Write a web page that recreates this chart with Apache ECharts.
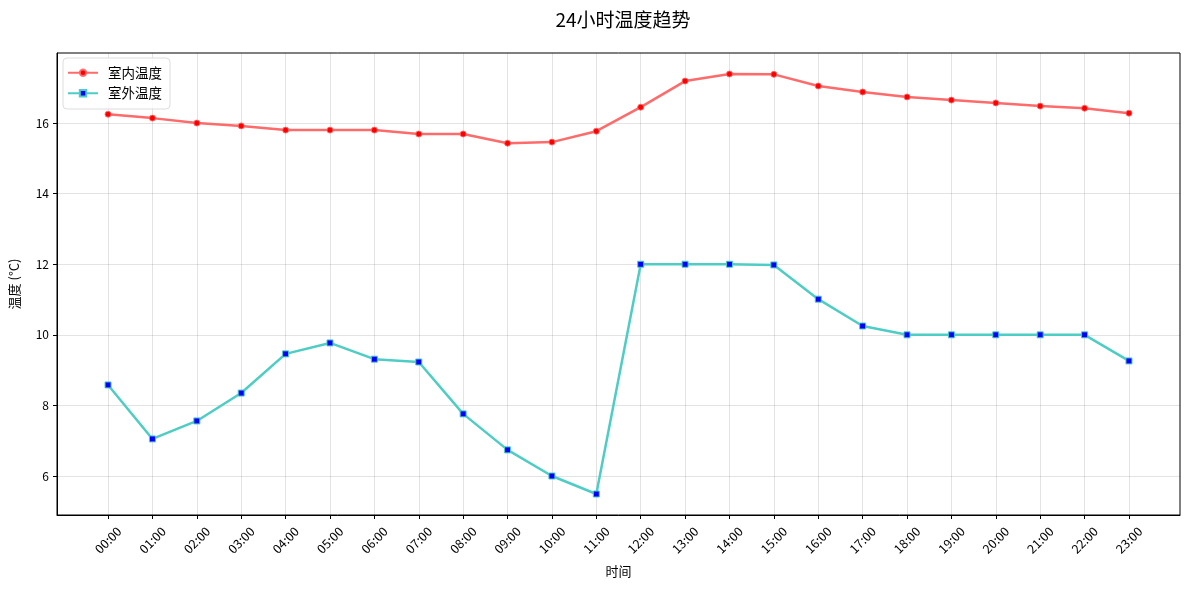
<!DOCTYPE html>
<html><head><meta charset="utf-8">
<script src="https://cdn.jsdelivr.net/npm/echarts@6/dist/echarts.min.js"></script>
<style>html,body{margin:0;padding:0;background:#fff}#c{width:1189px;height:590px}</style>
</head><body><div id="c"></div>
<script>
const hours = ['00:00','01:00','02:00','03:00','04:00','05:00','06:00','07:00','08:00','09:00','10:00','11:00','12:00','13:00','14:00','15:00','16:00','17:00','18:00','19:00','20:00','21:00','22:00','23:00'];
const indoor = [16.25,16.14,16.0,15.92,15.8,15.8,15.8,15.69,15.69,15.43,15.46,15.77,16.45,17.19,17.39,17.38,17.05,16.88,16.74,16.65,16.57,16.48,16.42,16.28];
const outdoor = [8.58,7.05,7.56,8.35,9.46,9.77,9.31,9.23,7.76,6.74,6.0,5.49,12.0,12.0,12.0,11.98,11.01,10.25,10.0,10.0,10.0,10.0,10.0,9.26];
const yTicks = [6,8,10,12,14,16];

const FONT = '"Noto Sans CJK SC", "DejaVu Sans", sans-serif';
const xIdx = hours.map((h,i)=>i);
const allVals = indoor.concat(outdoor);
const dmin = Math.min(...allVals), dmax = Math.max(...allVals);
const ymar = (dmax-dmin)*0.05;
const xmar = (hours.length-1)*0.05;

const chart = echarts.init(document.getElementById('c'), null, {renderer:'canvas'});
chart.setOption({
  animation:false,
  textStyle:{fontFamily:FONT},
  title:{text:'24小时温度趋势', left:618, top:5, textAlign:'center',
    textStyle:{fontFamily:FONT, fontSize:19, fontWeight:'normal', color:'#000'}},
  legend:{left:63, top:58, orient:'vertical', itemGap:7, itemWidth:30, itemHeight:8,
    padding:[8,8,9,4],
    backgroundColor:'rgba(255,255,255,0.8)', borderColor:'#dddddd', borderWidth:1, borderRadius:4,
    textStyle:{fontFamily:FONT, fontSize:13.5, color:'#000', padding:[0,0,0,5]},
    data:['室内温度','室外温度']},
  grid:{left:56, right:9, top:53, bottom:75, show:true, borderColor:'#000', borderWidth:1, containLabel:false},
  xAxis:{type:'value', min:-xmar, max:hours.length-1+xmar,
    name:'时间', nameLocation:'middle', nameGap:50,
    nameTextStyle:{fontFamily:FONT, fontSize:13, color:'#000'},
    axisLine:{show:true, onZero:false, lineStyle:{color:'#000', width:1}},
    axisTick:{show:true, length:4, lineStyle:{color:'#000'}, customValues:xIdx},
    axisLabel:{rotate:45, fontSize:12.5, color:'#000', fontFamily:FONT, margin:25,
      align:'center', verticalAlign:'middle',
      customValues:xIdx, formatter:v=>hours[Math.round(v)]},
    splitLine:{show:true, lineStyle:{color:'rgba(0,0,0,0.11)', width:1}}},
  yAxis:{type:'value', min:dmin-ymar, max:dmax+ymar,
    name:'温度 (°C)', nameLocation:'middle', nameGap:36, nameRotate:90,
    nameTextStyle:{fontFamily:FONT, fontSize:13, color:'#000'},
    axisLine:{show:true, onZero:false, lineStyle:{color:'#000', width:1}},
    axisTick:{show:true, length:4, lineStyle:{color:'#000'}, customValues:yTicks},
    axisLabel:{fontSize:12, color:'#000', fontFamily:FONT, margin:8, customValues:yTicks},
    splitLine:{show:true, lineStyle:{color:'rgba(0,0,0,0.11)', width:1}}},
  series:[
    {name:'室内温度', type:'line', data:indoor.map((v,i)=>[i,v]),
      lineStyle:{color:'#FF6B6B', width:2.5}, symbol:'circle', symbolSize:6,
      itemStyle:{color:'#ff0000', borderColor:'rgba(255,107,107,0.9)', borderWidth:1}},
    {name:'室外温度', type:'line', data:outdoor.map((v,i)=>[i,v]),
      lineStyle:{color:'#4ECDC4', width:2.5}, symbol:'rect', symbolSize:6,
      itemStyle:{color:'#0000ff', borderColor:'#4ECDC4', borderWidth:1}}
  ]
});
</script></body></html>
